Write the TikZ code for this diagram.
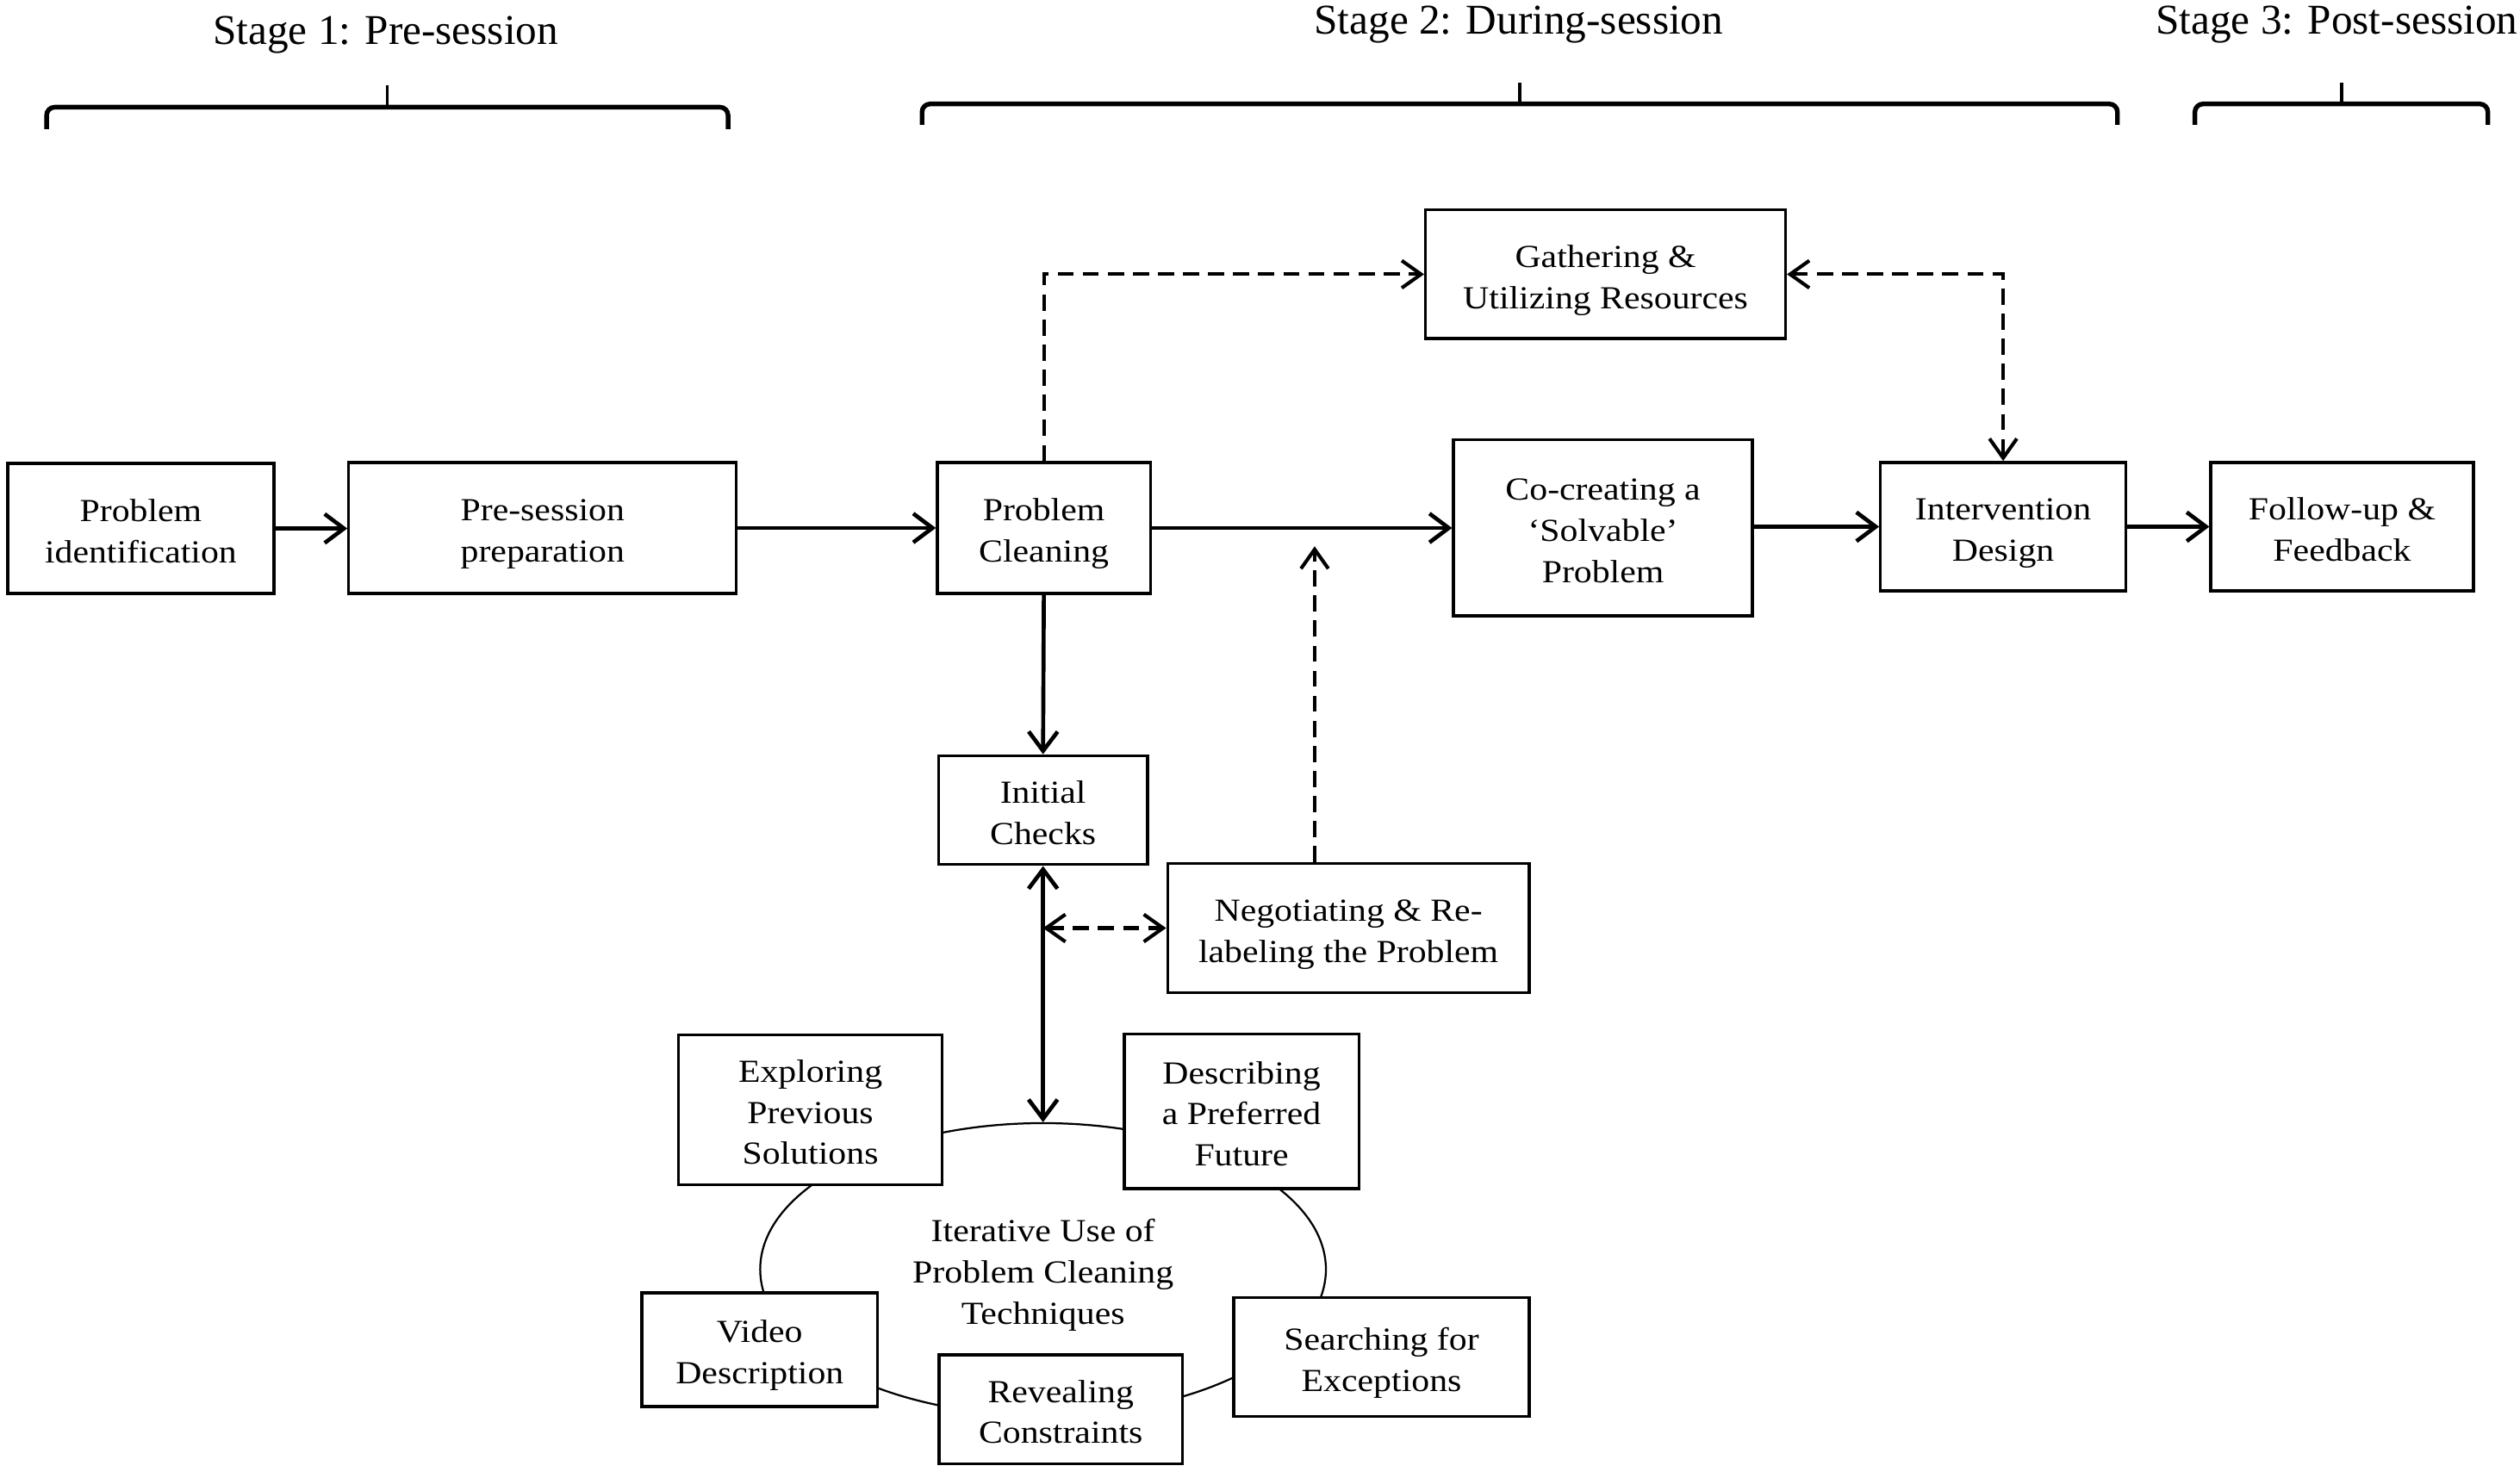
\documentclass[tikz,border=0pt]{standalone}
\usepackage{fontspec}
\setmainfont{Liberation Serif}
\newfontfamily\bxfont[FakeStretch=1.12]{Liberation Serif}
\usetikzlibrary{arrows.meta,shapes.geometric}
\newcommand\bt[1]{\raisebox{-1.65pt}[\height][\depth]{\begin{tabular}{@{}c@{}}#1\end{tabular}}}
\tikzset{
  box/.style={draw, line width=0.9pt, fill=white, inner sep=0pt, align=center,
    font=\bxfont\fontsize{10pt}{12.8pt}\selectfont},
  stagetitle/.style={inner sep=0pt, anchor=base, font=\fontsize{13.2pt}{16pt}\selectfont},
  brk/.style={line width=1.45pt, rounded corners=2.5pt},
  brktick/.style={line width=0.9pt},
  sarr/.style={line width=1.25pt, -{Straight Barb[length=6pt,width=9pt]}},
  sdbl/.style={line width=1.25pt, {Straight Barb[length=6pt,width=9pt]}-{Straight Barb[length=6pt,width=9pt]}},
  darr/.style={line width=1.1pt, dash pattern=on 5pt off 2.8pt, -{Straight Barb[length=6pt,width=8.5pt]}},
  ddbl/.style={line width=1.1pt, dash pattern=on 5pt off 2.8pt, {Straight Barb[length=6pt,width=8.5pt]}-{Straight Barb[length=6pt,width=8.5pt]}},
  loopline/.style={draw, ellipse, line width=0.6pt, inner sep=0pt},
  looptext/.style={inner sep=0pt, align=center, font=\bxfont\fontsize{10pt}{12.8pt}\selectfont}
}
\begin{document}
\begin{tikzpicture}[x=0.5pt,y=-0.5pt]
\useasboundingbox (0,0) rectangle (1568,916.1);

% stage titles
\node[stagetitle] (s1) at (240,27.7) {Stage 1: Pre-session};
\node[stagetitle] (s2) at (945,21) {Stage 2: During-session};
\node[stagetitle] (s3) at (1454,21) {Stage 3: Post-session};

% brackets
\draw[brk] (29,80.4) -- (29,66.7) -- (453,66.7) -- (453,80.4);
\draw[brktick] (241,66.7) -- (241,53);
\draw[brk] (573.7,77.7) -- (573.7,64.7) -- (1317.5,64.7) -- (1317.5,77.7);
\draw[brktick] (945.6,64.7) -- (945.6,51.5);
\draw[brk] (1365.7,77.7) -- (1365.7,64.7) -- (1548,64.7) -- (1548,77.7);
\draw[brktick] (1457,64.7) -- (1457,51.5);

% ellipse of techniques
\node[loopline, minimum width=176pt, minimum height=91pt] (loop) at (649,790) {};
\node[looptext] (iter) at (649,790) {\bt{Iterative Use of\\Problem Cleaning\\Techniques}};

% main boxes
\node[box, minimum width=82.8pt, minimum height=40.5pt] (pi) at (87.6,328.9) {\bt{Problem\\identification}};
\node[box, minimum width=120.6pt, minimum height=40.8pt] (psp) at (337.6,328.6) {\bt{Pre-session\\preparation}};
\node[box, minimum width=66.3pt, minimum height=40.8pt] (pc) at (649.5,328.6) {\bt{Problem\\Cleaning}};
\node[box, minimum width=112pt, minimum height=40pt] (gath) at (999,170.7) {\bt{Gathering \&\\Utilizing Resources}};
\node[box, minimum width=93pt, minimum height=54.8pt] (co) at (997.4,328.5) {\bt{Co-creating a\\‘Solvable’\\Problem}};
\node[box, minimum width=76.3pt, minimum height=40pt] (int) at (1246.4,327.8) {\bt{Intervention\\Design}};
\node[box, minimum width=81.7pt, minimum height=40pt] (fu) at (1457.3,327.8) {\bt{Follow-up \&\\Feedback}};
\node[box, minimum width=65pt, minimum height=33.9pt] (ic) at (649,504.2) {\bt{Initial\\Checks}};
\node[box, minimum width=112.5pt, minimum height=40.1pt] (neg) at (839,577.6) {\bt{Negotiating \& Re-\\labeling the Problem}};

% technique boxes
\node[box, minimum width=82.1pt, minimum height=46.5pt] (exp) at (504.2,690.7) {\bt{Exploring\\Previous\\Solutions}};
\node[box, minimum width=73pt, minimum height=48.2pt] (desc) at (772.5,691.6) {\bt{Describing\\a Preferred\\Future}};
\node[box, minimum width=73.3pt, minimum height=35.4pt] (vid) at (472.7,840) {\bt{Video\\Description}};
\node[box, minimum width=75.6pt, minimum height=33.9pt] (rev) at (660,877.2) {\bt{Revealing\\Constraints}};
\node[box, minimum width=92pt, minimum height=37.1pt] (srch) at (859.6,844.6) {\bt{Searching for\\Exceptions}};

% solid connectors
\draw[sarr] (pi.east) -- (pi.east -| psp.west);
\draw[sarr] (psp.east) -- (psp.east -| pc.west);
\draw[sarr] (pc.east) -- (pc.east -| co.west);
\draw[sarr] (co.east |- int.west) -- (int.west);
\draw[sarr] (int.east) -- (int.east -| fu.west);
\draw[sarr] (pc.south) -- (ic.north);
\draw[sdbl] (ic.south) -- (loop.north);

% dashed connectors
\draw[darr] (pc.north) |- (gath.west);
\draw[ddbl] (gath.east) -| (int.north);
\coordinate (negtip) at (818,340);
\draw[darr] (neg.north -| negtip) -- (negtip);
\coordinate (mid) at (neg.west -| ic.south);
\draw[ddbl] (mid) -- (neg.west);
\end{tikzpicture}
\end{document}
